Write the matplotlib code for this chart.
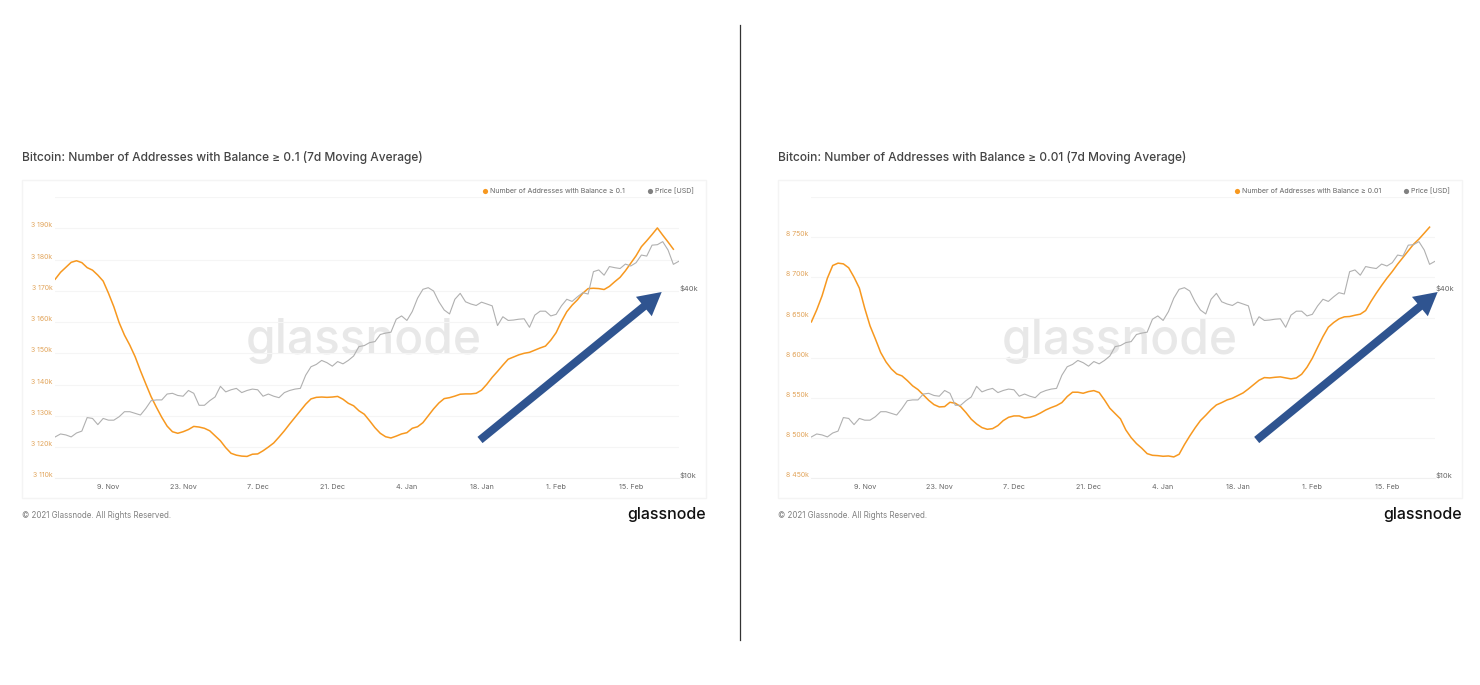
import numpy as np
import pandas as pd
import matplotlib
matplotlib.use('Agg')
import matplotlib.pyplot as plt
from matplotlib.patches import FancyArrow, Rectangle

plt.rcParams['font.family'] = ['Inter', 'DejaVu Sans']

# daily dates of the charts
dates = pd.date_range('2020-10-30', '2021-02-24', freq='D')

# price in thousand USD, same on both charts
price = [13.6, 13.9, 13.8, 13.6, 14.0, 14.2, 15.7, 15.6, 14.9, 15.6, 15.4, 15.4, 15.8, 16.4, 16.4, 16.2, 16.0, 16.8,
         17.8, 17.9, 17.9, 18.7, 18.8, 18.5, 18.4, 19.2, 18.8, 17.2, 17.2, 17.8, 18.3, 19.8, 19.0, 19.3, 19.5, 18.9,
         19.2, 19.4, 19.3, 18.4, 18.7, 18.4, 18.2, 18.9, 19.2, 19.4, 19.5, 21.5, 22.9, 23.3, 24.0, 23.6, 23.0, 23.8,
         23.4, 24.0, 24.8, 26.6, 26.8, 27.4, 27.6, 29.1, 29.4, 29.6, 32.6, 33.4, 32.3, 34.5, 38.1, 40.7, 41.2, 40.2,
         37.1, 34.9, 33.9, 37.8, 39.5, 37.1, 36.5, 36.1, 37.0, 36.5, 36.0, 31.1, 33.2, 32.3, 32.4, 32.6, 32.7, 30.7,
         33.6, 34.6, 34.6, 33.4, 33.8, 36.0, 37.8, 37.2, 38.5, 39.7, 39.3, 46.4, 47.0, 45.2, 48.2, 47.8, 47.5, 49.1,
         48.4, 49.6, 52.5, 52.1, 56.5, 56.7, 58.0, 54.5, 49.0, 50.1]

# addresses in thousands
addr_01 = [3173.7, 3175.9, 3177.5, 3179.1, 3179.6, 3179.0, 3177.4, 3176.6, 3175.0, 3173.1, 3169.2, 3164.9, 3159.8,
           3155.8, 3152.6, 3148.9, 3144.4, 3140.2, 3136.1, 3132.7, 3129.5, 3126.7, 3124.9, 3124.4, 3124.9, 3125.6,
           3126.6, 3126.4, 3126.0, 3125.2, 3123.6, 3122.0, 3119.8, 3118.0, 3117.4, 3117.1, 3117.0, 3117.7, 3117.8,
           3118.8, 3120.0, 3121.3, 3123.2, 3125.2, 3127.4, 3129.5, 3131.6, 3133.7, 3135.4, 3135.9, 3136.0, 3135.9,
           3136.0, 3136.2, 3135.3, 3134.0, 3133.2, 3131.6, 3130.5, 3128.4, 3126.2, 3124.4, 3123.3, 3122.9, 3123.5,
           3124.2, 3124.6, 3126.0, 3126.5, 3127.8, 3130.0, 3132.2, 3134.1, 3135.5, 3135.8, 3136.3, 3136.9, 3137.0,
           3137.0, 3137.2, 3138.2, 3140.1, 3142.3, 3144.2, 3146.2, 3148.1, 3148.8, 3149.5, 3150.0, 3150.3, 3151.0,
           3151.7, 3152.3, 3154.2, 3156.6, 3160.2, 3163.3, 3165.4, 3167.1, 3169.2, 3170.7, 3170.8, 3170.7, 3170.4,
           3171.4, 3172.9, 3174.3, 3176.4, 3178.8, 3181.2, 3184.1, 3186.0, 3188.0, 3190.1, 3187.8, 3185.6, 3183.3]

addr_001 = [8644.6, 8659.6, 8677.0, 8699.0, 8714.8, 8717.7, 8716.8, 8711.9, 8700.2, 8686.6, 8661.7, 8639.7, 8623.5,
            8606.5, 8594.8, 8586.1, 8579.9, 8577.4, 8571.6, 8565.0, 8560.4, 8553.8, 8547.1, 8541.7, 8538.8, 8539.2,
            8544.6, 8543.4, 8539.2, 8531.8, 8523.5, 8517.6, 8513.1, 8511.0, 8511.8, 8515.6, 8521.8, 8525.9, 8527.6,
            8527.6, 8525.1, 8525.9, 8528.0, 8531.3, 8535.1, 8538.0, 8540.5, 8544.2, 8551.7, 8557.1, 8557.1, 8555.8,
            8557.9, 8559.1, 8556.7, 8547.5, 8537.2, 8530.5, 8523.9, 8510.2, 8500.6, 8493.2, 8487.4, 8480.7, 8478.6,
            8478.2, 8477.4, 8477.8, 8476.6, 8479.9, 8491.9, 8502.7, 8512.7, 8521.8, 8528.4, 8535.5, 8541.3, 8544.2,
            8547.5, 8549.6, 8552.9, 8556.2, 8561.2, 8566.6, 8572.0, 8575.3, 8574.9, 8575.7, 8576.2, 8574.9, 8573.7,
            8574.9, 8579.5, 8588.2, 8599.4, 8613.1, 8626.4, 8638.0, 8643.8, 8648.4, 8650.9, 8651.3, 8652.9, 8654.2,
            8658.7, 8670.0, 8680.3, 8689.9, 8699.0, 8707.3, 8716.4, 8724.7, 8733.0, 8741.3, 8747.6, 8755.0, 8762.5]

tick_dates = ['2020-11-09', '2020-11-23', '2020-12-07', '2020-12-21', '2021-01-04', '2021-01-18', '2021-02-01',
              '2021-02-15']
tick_names = ['9. Nov', '23. Nov', '7. Dec', '21. Dec', '4. Jan', '18. Jan', '1. Feb', '15. Feb']

yticks_01 = [3110, 3120, 3130, 3140, 3150, 3160, 3170, 3180, 3190, 3200]
yticks_001 = [8450, 8500, 8550, 8600, 8650, 8700, 8750, 8800]
price_ticks = [10, 40]
price_names = ['$10k', '$40k']

W, H = 1480, 685
ORANGE = '#f7981f'
GRID = '#f5f5f5'
TICK_ORANGE = '#e2a55c'
TICK_GRAY = '#666666'
BLUE = '#2f5490'

fig = plt.figure(figsize=(W / 100, H / 100), dpi=100)

# overlay in pixels for the card, texts and arrows
over = fig.add_axes([0, 0, 1, 1], zorder=5)
over.set_xlim(0, W)
over.set_ylim(H, 0)
over.axis('off')
over.patch.set_alpha(0)

over.plot([739.5, 739.5], [25, 640], color='#333333', lw=0.9)


def draw_panel(x0, values, yticks, title, label, arrow_start, arrow_end, dot1, dot2):
    # x0 is the left side of the card
    over.add_patch(Rectangle((x0, 180), 683.5, 317.5, fill=False, ec='#f4f4f4', lw=1))
    over.text(x0, 157, title, fontsize=8.6, fontweight='medium', color='#444444', va='center', ha='left')
    over.text(x0, 515.5, '© 2021 Glassnode. All Rights Reserved.', fontsize=5.75, color='#808080', va='center')
    over.text(x0 + 683.5, 515, 'glassnode', fontsize=11.5, fontweight='medium', color='#111111', va='center',
              ha='right')

    over.scatter([dot1], [190.7], s=14, color=ORANGE, linewidths=0)
    over.text(dot1 + 5, 190.7, label, fontsize=5.1, color='#666666', va='center')
    over.scatter([dot2], [190.7], s=14, color='#808080', linewidths=0)
    over.text(dot2 + 5, 190.7, 'Price [USD]', fontsize=5.1, color='#666666', va='center')

    dx = arrow_end[0] - arrow_start[0]
    dy = arrow_end[1] - arrow_start[1]
    over.add_patch(FancyArrow(arrow_start[0], arrow_start[1], dx, dy, width=8, head_width=25, head_length=23,
                              length_includes_head=True, color=BLUE, lw=0))

    ax_left = x0 + 33.2
    ax = fig.add_axes([ax_left / W, 1 - 478.3 / H, 623.5 / W, 281.3 / H], zorder=1)
    ax.set_zorder(1)
    ax.plot(dates[:len(values)], values, color=ORANGE, lw=1.1, zorder=3)
    ax.set_xlim(dates[0], dates[-1])
    ax.set_ylim(yticks[0], yticks[-1])
    ax.set_yticks(yticks)
    ax.set_yticklabels([f'{t // 1000} {t % 1000:03d}k' for t in yticks[:-1]] + [''])
    ax.set_xticks(pd.to_datetime(tick_dates))
    ax.set_xticklabels(tick_names)
    ax.grid(axis='y', color=GRID, lw=0.8)
    ax.set_axisbelow(True)
    ax.tick_params(axis='y', length=0, pad=2, labelsize=5.0, labelcolor=TICK_ORANGE)
    ax.tick_params(axis='x', length=0, pad=4, labelsize=5.2, labelcolor=TICK_GRAY)
    for t in ax.get_yticklabels():
        t.set_va('bottom')
    for s in ['top', 'left', 'right']:
        ax.spines[s].set_visible(False)
    ax.spines['bottom'].set_color('#f0f0f0')
    ax.spines['bottom'].set_linewidth(0.8)
    ax.text(0.495, 0.487, 'glassnode', transform=ax.transAxes, fontsize=34.5, fontweight='medium', color='#e8e8e8',
            ha='center', va='center', zorder=0)

    ax2 = ax.twinx()
    ax2.plot(dates, price, color='#b0b0b0', lw=0.8, zorder=2)
    ax2.set_yscale('log')
    ax2.set_ylim(10, 80.8)
    ax2.set_yticks(price_ticks)
    ax2.set_yticklabels(price_names)
    ax2.minorticks_off()
    ax2.tick_params(axis='y', length=0, pad=0.5, labelsize=5.4, labelcolor=TICK_GRAY)
    for t in ax2.get_yticklabels():
        t.set_va('bottom')
    for s in ['top', 'left', 'right', 'bottom']:
        ax2.spines[s].set_visible(False)
    ax2.patch.set_alpha(0)


draw_panel(22, addr_01, yticks_01, 'Bitcoin: Number of Addresses with Balance ≥ 0.1 (7d Moving Average)',
           'Number of Addresses with Balance ≥ 0.1', (480, 440), (661.7, 292), 485, 649.7)
draw_panel(778.2, addr_001, yticks_001, 'Bitcoin: Number of Addresses with Balance ≥ 0.01 (7d Moving Average)',
           'Number of Addresses with Balance ≥ 0.01', (1256.7, 440), (1437.7, 292), 1237, 1406)

fig.savefig('out.png', dpi=100, facecolor='white')
